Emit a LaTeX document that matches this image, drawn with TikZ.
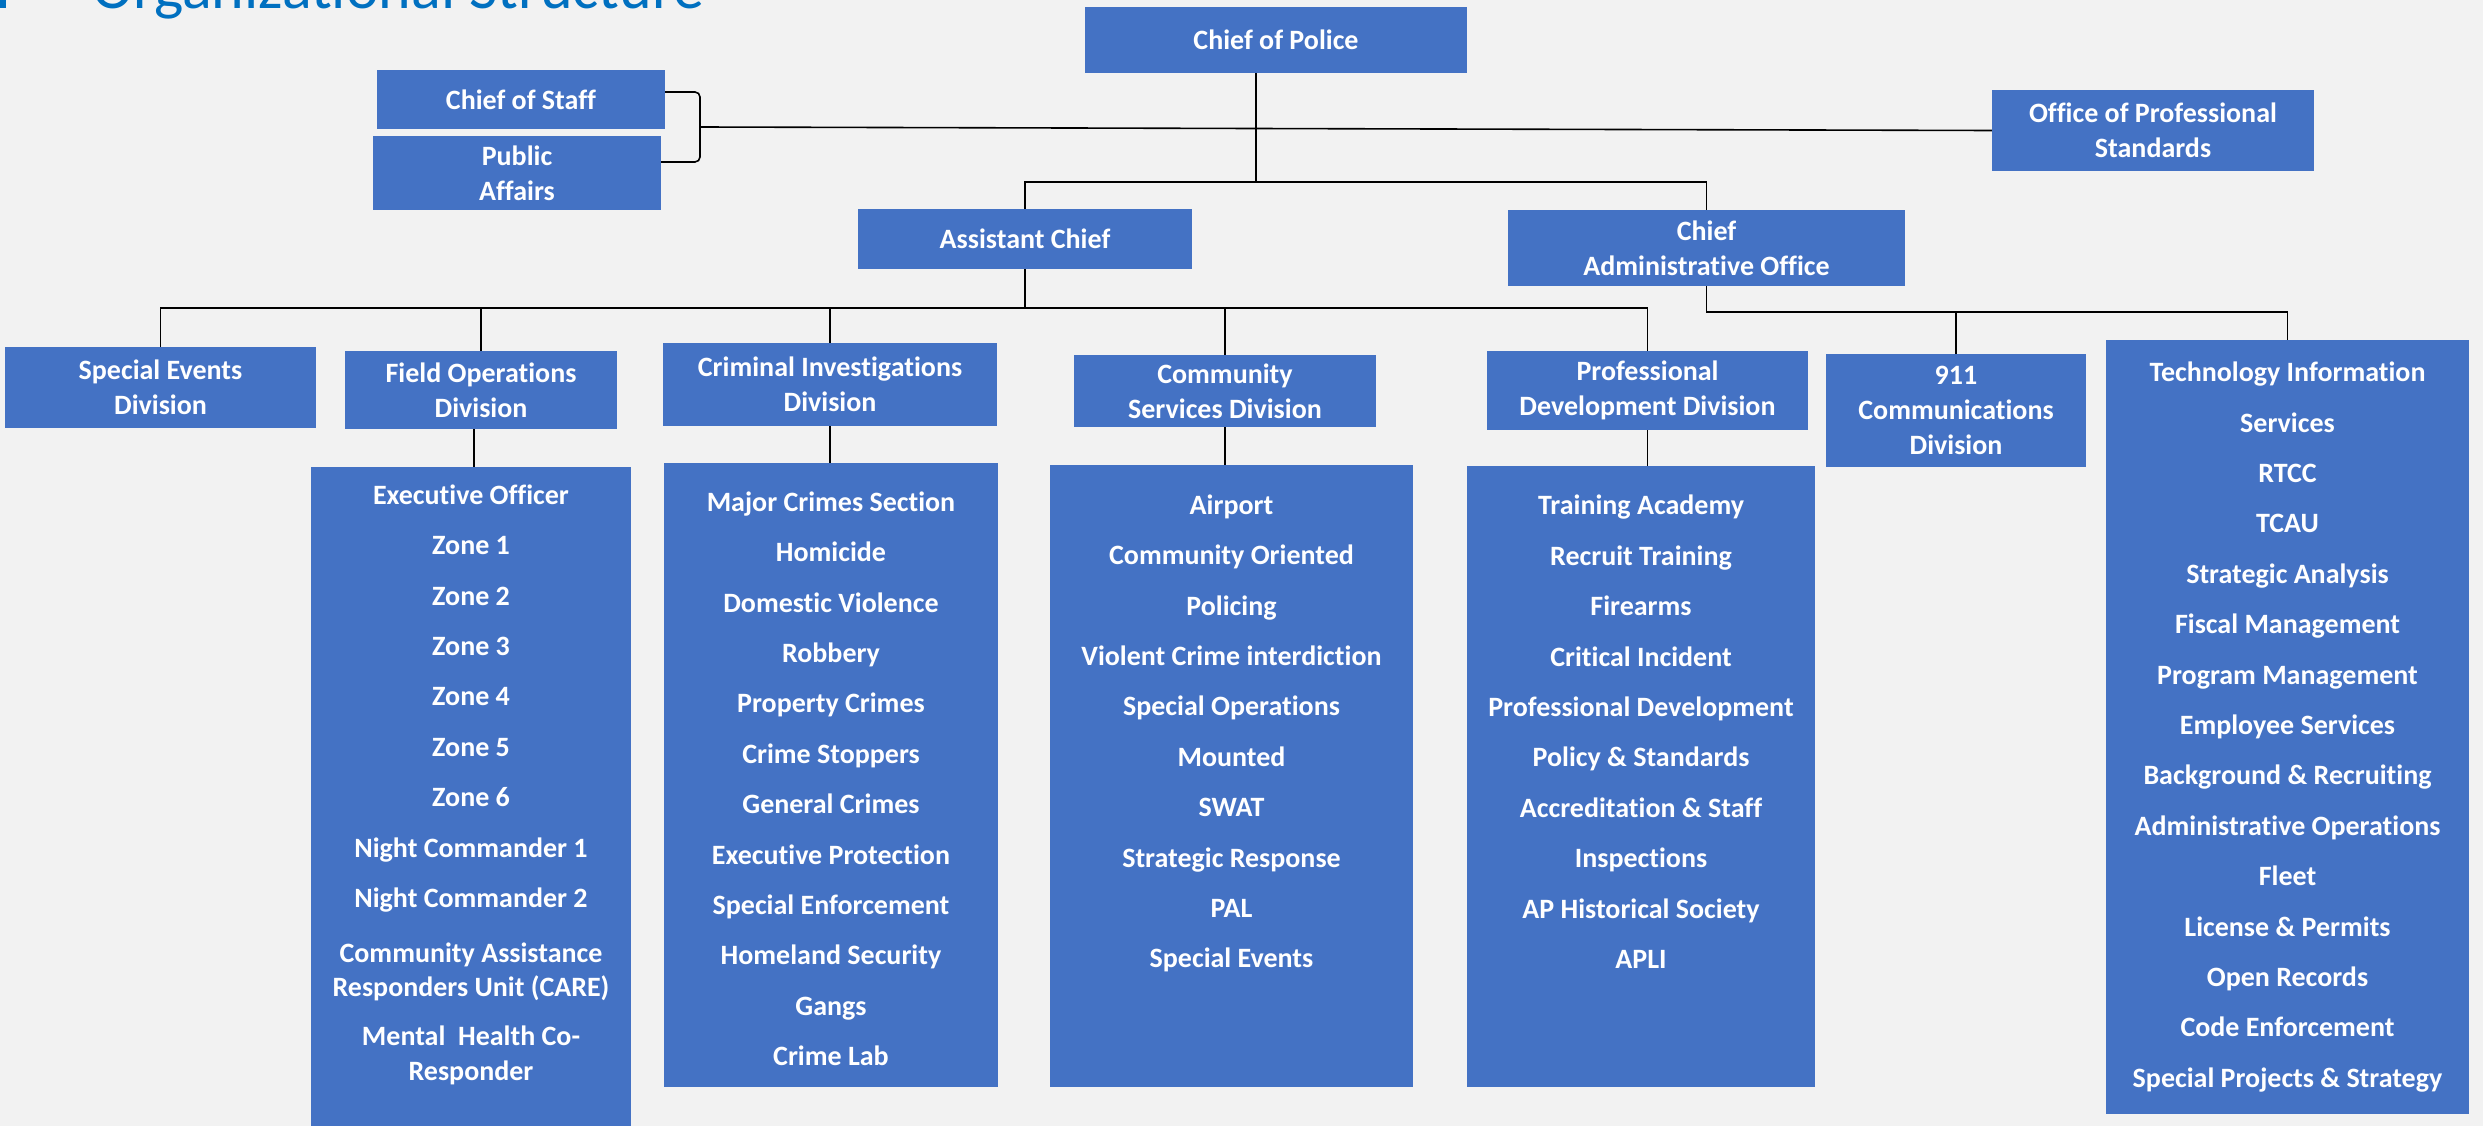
\documentclass[tikz,border=0pt]{standalone}
\usepackage{fontspec}
\setmainfont{Carlito}[Ligatures=NoCommon]
\usetikzlibrary{positioning}
\definecolor{boxblue}{HTML}{4472C4}
\definecolor{titleblue}{HTML}{0070C0}
\definecolor{paper}{HTML}{F2F2F2}

\begin{document}
\begin{tikzpicture}
    [x=1pt, y=-1pt,
    unitnode/.style={rectangle, fill=boxblue, text=white, align=center, inner sep=0pt,
        font=\fontsize{28}{35}\selectfont\bfseries},
    listnode/.style={rectangle, fill=boxblue, inner sep=0pt},
    listtext/.style={text=white, align=center, inner sep=0pt,
        font=\fontsize{28}{50.4}\selectfont\bfseries},
    link/.style={draw=black, line width=1.6pt}]

    %Background
    \fill[paper] (0,0) rectangle (2483,1126);
    \useasboundingbox (0,0) rectangle (2483,1126);

    %Title
    \fill[titleblue] (0,-40) rectangle (6,8);
    \node[anchor=base west, text=titleblue, inner sep=0pt, font=\fontsize{62}{74}\selectfont] (title) at (92,9) {Organizational Structure};

    %Nodes
    \node[unitnode, minimum width=382pt, minimum height=66pt] (cop) at (1276,40) {Chief of Police};
    \node[unitnode, minimum width=288pt, minimum height=59pt] (cos) at (521,99.5) {Chief of Staff};
    \node[unitnode, minimum width=288pt, minimum height=74pt] (pa) at (517,173) {Public\\Affairs};
    \node[unitnode, minimum width=322pt, minimum height=81pt] (ops) at (2153,130.5) {Office of Professional\\Standards};
    \node[unitnode, minimum width=334pt, minimum height=60pt] (ac) at (1025,239) {Assistant Chief};
    \node[unitnode, minimum width=397pt, minimum height=76pt] (cao) at (1706.5,248) {Chief\\Administrative Office};

    \node[unitnode, minimum width=311pt, minimum height=81pt] (sed) at (160.5,387.5) {Special Events\\Division};
    \node[unitnode, minimum width=272pt, minimum height=78pt] (fod) at (481,390) {Field Operations\\Division};
    \node[unitnode, minimum width=334pt, minimum height=83pt] (cid) at (830,384.5) {Criminal Investigations\\Division};
    \node[unitnode, minimum width=302pt, minimum height=72pt] (csd) at (1225,391) {Community\\Services Division};
    \node[unitnode, minimum width=321pt, minimum height=79pt] (pdd) at (1647.5,390.5) {Professional\\Development Division};
    \node[unitnode, minimum width=260pt, minimum height=113pt] (comm) at (1956,410.5) {911\\Communications\\Division};
    \node[unitnode, minimum width=363pt, minimum height=774pt, font=\fontsize{28}{50.4}\selectfont\bfseries] (tis) at (2287.5,727)
        {Technology Information\\Services\\RTCC\\TCAU\\Strategic Analysis\\Fiscal Management\\Program Management\\Employee Services\\Background \& Recruiting\\Administrative Operations\\Fleet\\License \& Permits\\Open Records\\Code Enforcement\\Special Projects \& Strategy};

    %Lists
    \node[listnode, minimum width=320pt, minimum height=680pt] (fodlist) [below=38pt of fod, xshift=-10pt] {};
    \node[listnode, minimum width=334pt, minimum height=624pt] (cidlist) [below=37pt of cid, xshift=1pt] {};
    \node[listnode, minimum width=363pt, minimum height=622pt] (csdlist) [below=38pt of csd, xshift=6.5pt] {};
    \node[listnode, minimum width=348pt, minimum height=621pt] (pddlist) [below=35.5pt of pdd, xshift=-6.5pt] {};

    \node[listtext] (fodtext) [below=1.7pt of fodlist.north]
        {\strut Executive Officer\\Zone 1\\Zone 2\\Zone 3\\Zone 4\\Zone 5\\Zone 6\\Night Commander 1\\Night Commander 2\\[4.6pt]Community Assistance\\[-16.4pt]Responders Unit (CARE)\\[-1.4pt]Mental\ \ Health Co-\\[-15.4pt]Responder};
    \node[listtext] (cidtext) [below=12.7pt of cidlist.north]
        {\strut Major Crimes Section\\Homicide\\Domestic Violence\\Robbery\\Property Crimes\\Crime Stoppers\\General Crimes\\Executive Protection\\Special Enforcement\\Homeland Security\\Gangs\\Crime Lab};
    \node[listtext] (csdtext) [below=13.7pt of csdlist.north]
        {\strut Airport\\Community Oriented\\Policing\\Violent Crime interdiction\\Special Operations\\Mounted\\SWAT\\Strategic Response\\PAL\\Special Events};
    \node[listtext] (pddtext) [below=13.7pt of pddlist.north]
        {\strut Training Academy\\Recruit Training\\Firearms\\Critical Incident\\Professional Development\\Policy \& Standards\\Accreditation \& Staff\\Inspections\\AP Historical Society\\APLI};

    %Lines
    \coordinate (bus1) at (1256,182);
    \coordinate (brk) at (700,127);
    \coordinate (bus2) at (1024,308);
    \coordinate (bus3) at (1706.5,312);

    \draw[link] ([xshift=-20pt]cop.south) -- (bus1);
    \draw[link] (ac.north) |- (bus1) -| (cao.north);
    \draw[link, rounded corners=5pt] ([yshift=7.5pt]cos.east) -| (brk) |- ([yshift=11pt]pa.east);
    \draw[link] (brk) -- (ops.west);

    \draw[link] (ac.south) -- (ac.south |- bus2);
    \draw[link] (sed.north) |- (bus2) -| (pdd.north);
    \draw[link] (fod.north) -- (fod.north |- bus2);
    \draw[link] (cid.north) -- (cid.north |- bus2);
    \draw[link] (csd.north) -- (csd.north |- bus2);

    \draw[link] (cao.south) -- (bus3) -| (tis.north);
    \draw[link] (comm.north) -- (comm.north |- bus3);

    \draw[link] ([xshift=-7pt]fod.south) -- ([xshift=-7pt]fod.south |- fodlist.north);
    \draw[link] (cid.south) -- (cid.south |- cidlist.north);
    \draw[link] (csd.south) -- (csd.south |- csdlist.north);
    \draw[link] (pdd.south) -- (pdd.south |- pddlist.north);
\end{tikzpicture}
\end{document}
